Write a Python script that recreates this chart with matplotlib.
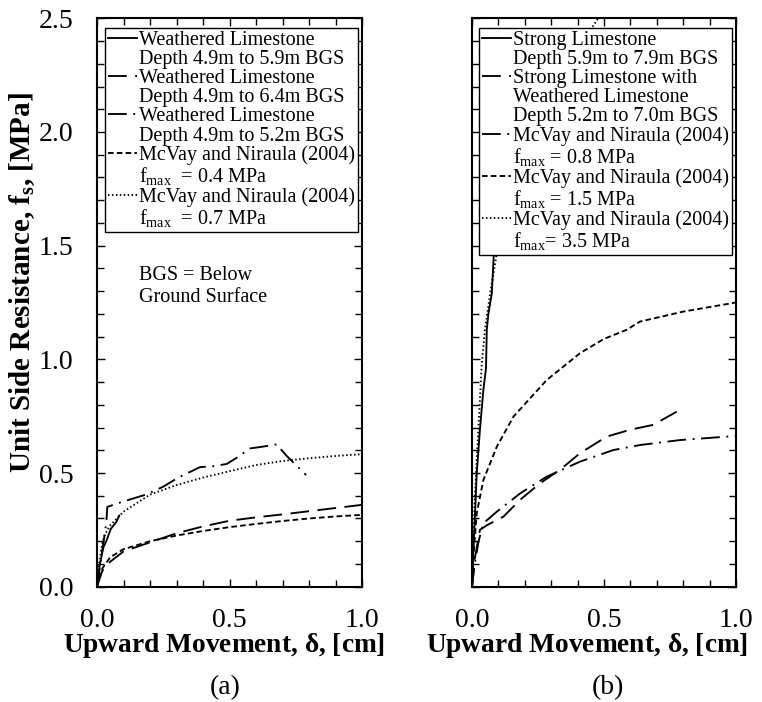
import matplotlib
matplotlib.use("Agg")
import matplotlib.pyplot as plt
from matplotlib.lines import Line2D
from matplotlib.ticker import MultipleLocator

plt.rcParams['font.family'] = ['Liberation Serif', 'DejaVu Serif']
plt.rcParams['mathtext.fontset'] = 'custom'
plt.rcParams['mathtext.rm'] = 'Liberation Serif'
plt.rcParams['mathtext.it'] = 'Liberation Serif:italic'
plt.rcParams['mathtext.bf'] = 'Liberation Serif:bold'

# ---------------- Panel (a) data ----------------
a_solid_x = [0, 0.005, 0.011, 0.024, 0.036, 0.052, 0.062, 0.072, 0.084]
a_solid_y = [0, 0.05, 0.10, 0.173, 0.203, 0.254, 0.269, 0.283, 0.313]

a_ldash_x = [0, 0.02, 0.05, 0.1, 0.2, 0.3, 0.4, 0.5, 0.6, 0.7, 0.8, 0.9, 1.0]
a_ldash_y = [0, 0.07, 0.11, 0.155, 0.195, 0.235, 0.265, 0.29, 0.305, 0.318, 0.332, 0.346, 0.36]

a_dashdot_x = [0, 0.01, 0.025, 0.035, 0.039, 0.1, 0.187, 0.25, 0.307, 0.389, 0.44, 0.49, 0.527, 0.577, 0.62, 0.678, 0.716, 0.789]
a_dashdot_y = [0, 0.08, 0.2, 0.28, 0.351, 0.375, 0.406, 0.44, 0.48, 0.526, 0.53, 0.54, 0.567, 0.608, 0.615, 0.626, 0.575, 0.491]

a_sdash_x = [0, 0.01, 0.02, 0.05, 0.1, 0.2, 0.3, 0.4, 0.5, 0.6, 0.7, 0.8, 0.9, 1.0]
a_sdash_y = [0, 0.05, 0.08, 0.13, 0.165, 0.2, 0.225, 0.245, 0.262, 0.276, 0.289, 0.3, 0.309, 0.316]

a_dot_x = [0, 0.005, 0.01, 0.02, 0.03, 0.05, 0.1, 0.2, 0.3, 0.4, 0.5, 0.6, 0.7, 0.8, 0.9, 1.0]
a_dot_y = [0, 0.07, 0.12, 0.19, 0.23, 0.27, 0.33, 0.405, 0.447, 0.48, 0.508, 0.535, 0.553, 0.565, 0.575, 0.583]

a_labels = [
    ["Weathered Limestone", "Depth 4.9m to 5.9m BGS"],
    ["Weathered Limestone", "Depth 4.9m to 6.4m BGS"],
    ["Weathered Limestone", "Depth 4.9m to 5.2m BGS"],
    ["McVay and Niraula (2004)", r"f$_{\mathrm{max}}$  = 0.4 MPa"],
    ["McVay and Niraula (2004)", r"f$_{\mathrm{max}}$  = 0.7 MPa"],
]

# ---------------- Panel (b) data ----------------
b_solid_x = [0, 0.003, 0.011, 0.018, 0.03, 0.043, 0.053, 0.056, 0.062, 0.075, 0.083, 0.088]
b_solid_y = [0, 0.1, 0.31, 0.5, 0.69, 0.865, 0.96, 1.13, 1.2, 1.29, 1.47, 1.55]

b_ldash_x = [0, 0.01, 0.03, 0.056, 0.119, 0.182, 0.258, 0.333, 0.409, 0.51, 0.598, 0.687, 0.788]
b_ldash_y = [0, 0.12, 0.25, 0.27, 0.308, 0.382, 0.455, 0.514, 0.587, 0.66, 0.69, 0.712, 0.778]

b_dashdot_x = [0, 0.01, 0.025, 0.043, 0.094, 0.182, 0.283, 0.409, 0.535, 0.636, 0.788, 1.0]
b_dashdot_y = [0, 0.1, 0.2, 0.279, 0.33, 0.41, 0.484, 0.55, 0.601, 0.623, 0.645, 0.663]

b_sdash_x = [0, 0.005, 0.018, 0.043, 0.094, 0.157, 0.283, 0.409, 0.5, 0.586, 0.636, 0.8, 1.0]
b_sdash_y = [0, 0.13, 0.323, 0.469, 0.616, 0.748, 0.909, 1.027, 1.09, 1.13, 1.166, 1.21, 1.25]

b_dot_x = [0, 0.004, 0.011, 0.024, 0.037, 0.049, 0.07, 0.094, 0.15, 0.25, 0.35, 0.49]
b_dot_y = [0, 0.15, 0.40, 0.69, 0.98, 1.13, 1.3, 1.467, 1.75, 2.05, 2.28, 2.52]

b_labels = [
    ["Strong Limestone", "Depth 5.9m to 7.9m BGS"],
    ["Strong Limestone with", "Weathered Limestone", "Depth 5.2m to 7.0m BGS"],
    ["McVay and Niraula (2004)", r"f$_{\mathrm{max}}$ = 0.8 MPa"],
    ["McVay and Niraula (2004)", r"f$_{\mathrm{max}}$ = 1.5 MPa"],
    ["McVay and Niraula (2004)", r"f$_{\mathrm{max}}$= 3.5 MPa"],
]

x_ticklabels = ["0.0", "0.5", "1.0"]
y_ticklabels = ["0.0", "0.5", "1.0", "1.5", "2.0", "2.5"]

# line styles (in units of linewidth)
LW = 1.35
styles = [
    '-',
    (0, (10, 4.5)),
    (0, (10, 3.5, 1, 3.5)),
    (0, (3, 1.7)),
    (0, (0.8, 1.3)),
]

fig = plt.figure(figsize=(7.62, 7.02), dpi=100)
W, H = 762.0, 702.0
ax_a = fig.add_axes([97 / W, 1 - 586.7 / H, 265 / W, 568.4 / H])
ax_b = fig.add_axes([472 / W, 1 - 586.7 / H, 264 / W, 568.4 / H])

TICK_FS = 20
LAB_FS = 19.7
LEG_FS = 14.5


def style_axes(ax, show_y, xlabel_x):
    ax.set_xlim(0, 1.0)
    ax.set_ylim(0, 2.5)
    ax.xaxis.set_major_locator(MultipleLocator(0.5))
    ax.xaxis.set_minor_locator(MultipleLocator(0.1))
    ax.yaxis.set_major_locator(MultipleLocator(0.5))
    ax.yaxis.set_minor_locator(MultipleLocator(0.1))
    ax.tick_params(which='both', direction='in', top=True, right=True,
                   width=1.0, labelsize=TICK_FS)
    ax.tick_params(which='major', length=6)
    ax.tick_params(which='minor', length=5)
    ax.tick_params(axis='x', which='major', pad=15)
    ax.tick_params(axis='y', which='major', pad=17)
    ax.set_xticks([0, 0.5, 1.0])
    ax.set_xticklabels(x_ticklabels)
    if show_y:
        ax.set_yticks([0, 0.5, 1.0, 1.5, 2.0, 2.5])
        ax.set_yticklabels(y_ticklabels)
    else:
        ax.tick_params(axis='y', labelleft=False)
    for s in ax.spines.values():
        s.set_linewidth(1.5)
    ax.set_xlabel(r"Upward Movement, $\mathbf{\delta}$, [cm]", fontsize=LAB_FS,
                  fontweight='bold')
    ax.xaxis.set_label_coords(xlabel_x, -0.078)


def build_legend(ax, handles_styles, labels):
    hs, ls = [], []
    for st, lab in zip(handles_styles, labels):
        hs.append(Line2D([], [], color='black', lw=LW, linestyle=st))
        ls.append(lab[0])
        for extra in lab[1:]:
            hs.append(Line2D([], [], color='none', lw=0))
            ls.append(extra)
    leg = ax.legend(hs, ls, loc='upper right', bbox_to_anchor=(0.985, 0.983),
                    fontsize=LEG_FS, frameon=True, fancybox=False,
                    framealpha=1.0, edgecolor='black', handlelength=1.4,
                    handletextpad=0.12, labelspacing=0.0, borderpad=0.15,
                    borderaxespad=0.0)
    leg.get_frame().set_linewidth(1.0)
    return leg


# ---- panel (a)
series_a = [(a_solid_x, a_solid_y), (a_ldash_x, a_ldash_y), (a_dashdot_x, a_dashdot_y),
            (a_sdash_x, a_sdash_y), (a_dot_x, a_dot_y)]
for (xs, ys), st in zip(series_a, styles):
    ax_a.plot(xs, ys, color='black', lw=LW, linestyle=st)
style_axes(ax_a, True, 0.48)
build_legend(ax_a, styles, a_labels)
ax_a.text(0.16, 1.41, "BGS = Below\nGround Surface", fontsize=LEG_FS,
          va='top', ha='left', linespacing=1.2)
ax_a.set_ylabel(r"Unit Side Resistance, f$_\mathbf{s}$, [MPa]", fontsize=21,
                fontweight='bold')
ax_a.yaxis.set_label_coords(-0.225, 0.535)

# ---- panel (b)
series_b = [(b_solid_x, b_solid_y), (b_ldash_x, b_ldash_y), (b_dashdot_x, b_dashdot_y),
            (b_sdash_x, b_sdash_y), (b_dot_x, b_dot_y)]
for (xs, ys), st in zip(series_b, styles):
    ax_b.plot(xs, ys, color='black', lw=LW, linestyle=st)
style_axes(ax_b, False, 0.435)
build_legend(ax_b, styles, b_labels)

fig.text(225 / W, 1 - 688 / H, "(a)", fontsize=20, ha='center', va='center')
fig.text(608 / W, 1 - 688 / H, "(b)", fontsize=20, ha='center', va='center')

fig.savefig("out.png", dpi=100)
